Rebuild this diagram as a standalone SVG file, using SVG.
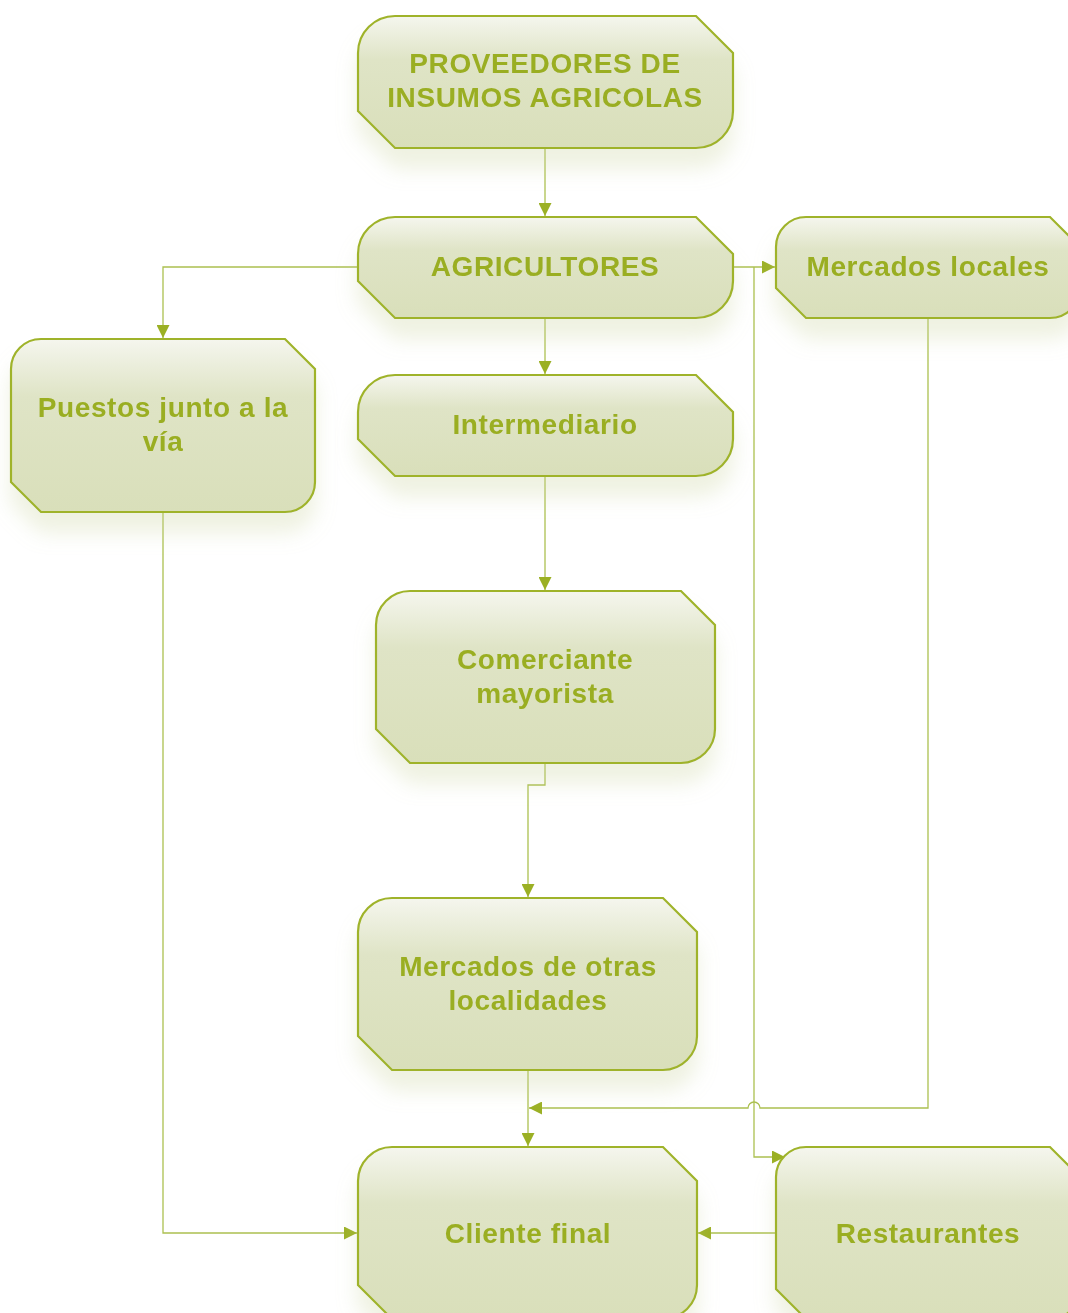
<svg xmlns="http://www.w3.org/2000/svg" width="1068" height="1313" viewBox="0 0 1068 1313">
<style>
.box{fill:url(#g);stroke:#9fb32a;stroke-width:2.2}
.t{font-family:"Liberation Sans",Arial,sans-serif;font-weight:bold;font-size:28px;letter-spacing:0.6px;fill:#9aae22;text-anchor:middle}
.c{fill:none;stroke:#acc050;stroke-width:1.3}
</style>
<defs>
<linearGradient id="g" x1="0" y1="0" x2="0" y2="1">
<stop offset="0" stop-color="#f5f6ee"/>
<stop offset="0.33" stop-color="#dfe4c6"/>
<stop offset="1" stop-color="#d9dfba"/>
</linearGradient>
<filter id="sh" x="-10%" y="-10%" width="120%" height="160%">
<feGaussianBlur in="SourceAlpha" stdDeviation="10"/>
<feOffset dy="20" result="b"/>
<feFlood flood-color="#c9d19c" flood-opacity="0.3"/>
<feComposite in2="b" operator="in"/>
<feMerge><feMergeNode/><feMergeNode in="SourceGraphic"/></feMerge>
</filter>
<marker id="a" viewBox="0 0 10 10" refX="10" refY="5" markerWidth="13" markerHeight="13" markerUnits="userSpaceOnUse" orient="auto">
<path d="M0,0 L10,5 L0,10 Z" fill="#9bb024"/>
</marker>
</defs>
<g id="connectors">
<path class="c" d="M545,148 V216" marker-end="url(#a)"/>
<path class="c" d="M358,267 H163 V338" marker-end="url(#a)"/>
<path class="c" d="M733,267 H775" marker-end="url(#a)"/>
<path class="c" d="M754,267 V1157 H785" marker-end="url(#a)"/>
<path class="c" d="M545,318 V374" marker-end="url(#a)"/>
<path class="c" d="M545,476 V590" marker-end="url(#a)"/>
<path class="c" d="M545,763 V785 H528 V897" marker-end="url(#a)"/>
<path class="c" d="M528,1070 V1146" marker-end="url(#a)"/>
<path class="c" d="M928,318 V1108 H760 A6 6 0 0 0 748,1108 H529" marker-end="url(#a)"/>
<path class="c" d="M163,512 V1233 H357" marker-end="url(#a)"/>
<path class="c" d="M776,1233 H698" marker-end="url(#a)"/>
</g>
<g id="n1" filter="url(#sh)">
<path class="box" d="M395,16 H696 L733,53 V111 A37 37 0 0 1 696,148 H395 L358,111 V53 A37 37 0 0 1 395,16 Z"/>
<text class="t" x="545" y="73">PROVEEDORES DE</text>
<text class="t" x="545" y="107">INSUMOS AGRICOLAS</text>
</g>
<g id="n2" filter="url(#sh)">
<path class="box" d="M395,217 H696 L733,254 V281 A37 37 0 0 1 696,318 H395 L358,281 V254 A37 37 0 0 1 395,217 Z"/>
<text class="t" x="545" y="276">AGRICULTORES</text>
</g>
<g id="n3" filter="url(#sh)">
<path class="box" d="M806,217 H1050 L1080,247 V288 A30 30 0 0 1 1050,318 H806 L776,288 V247 A30 30 0 0 1 806,217 Z"/>
<text class="t" x="928" y="276">Mercados locales</text>
</g>
<g id="n4" filter="url(#sh)">
<path class="box" d="M41,339 H285 L315,369 V482 A30 30 0 0 1 285,512 H41 L11,482 V369 A30 30 0 0 1 41,339 Z"/>
<text class="t" x="163" y="417">Puestos junto a la</text>
<text class="t" x="163" y="451">vía</text>
</g>
<g id="n5" filter="url(#sh)">
<path class="box" d="M395,375 H696 L733,412 V439 A37 37 0 0 1 696,476 H395 L358,439 V412 A37 37 0 0 1 395,375 Z"/>
<text class="t" x="545" y="434">Intermediario</text>
</g>
<g id="n6" filter="url(#sh)">
<path class="box" d="M410,591 H681 L715,625 V729 A34 34 0 0 1 681,763 H410 L376,729 V625 A34 34 0 0 1 410,591 Z"/>
<text class="t" x="545" y="669">Comerciante</text>
<text class="t" x="545" y="703">mayorista</text>
</g>
<g id="n7" filter="url(#sh)">
<path class="box" d="M392,898 H663 L697,932 V1036 A34 34 0 0 1 663,1070 H392 L358,1036 V932 A34 34 0 0 1 392,898 Z"/>
<text class="t" x="528" y="976">Mercados de otras</text>
<text class="t" x="528" y="1010">localidades</text>
</g>
<g id="n8" filter="url(#sh)">
<path class="box" d="M392,1147 H663 L697,1181 V1285 A34 34 0 0 1 663,1319 H392 L358,1285 V1181 A34 34 0 0 1 392,1147 Z"/>
<text class="t" x="528" y="1243">Cliente final</text>
</g>
<g id="n9" filter="url(#sh)">
<path class="box" d="M806,1147 H1050 L1080,1177 V1289 A30 30 0 0 1 1050,1319 H806 L776,1289 V1177 A30 30 0 0 1 806,1147 Z"/>
<text class="t" x="928" y="1243">Restaurantes</text>
</g>
</svg>
